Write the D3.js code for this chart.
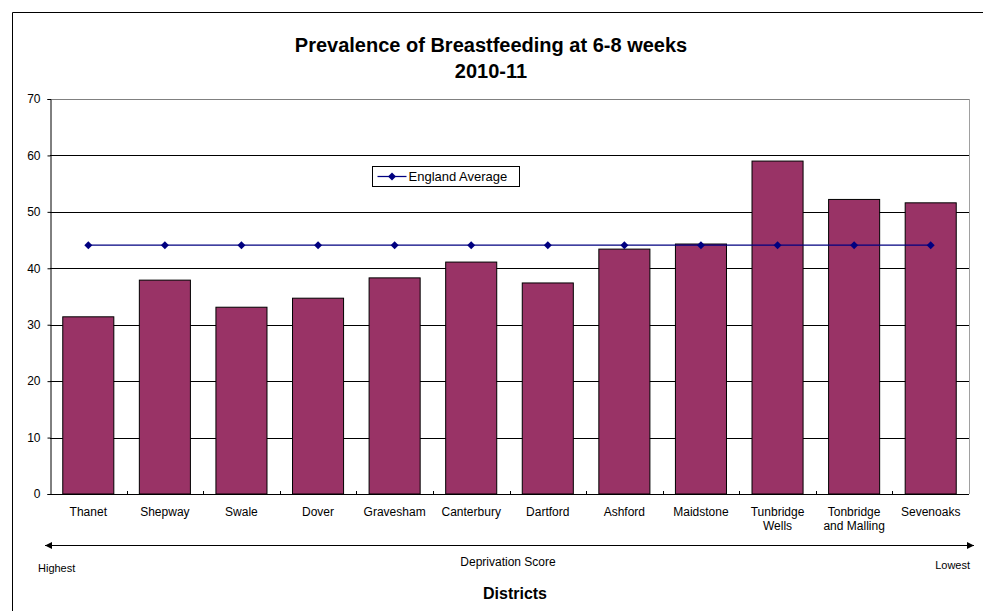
<!DOCTYPE html>
<html>
<head>
<meta charset="utf-8">
<script src="https://cdn.jsdelivr.net/npm/d3@7"></script>
<style>
  body { margin: 0; background: #fff; }
  svg { display: block; font-family: "Liberation Sans", Arial, sans-serif; }
</style>
</head>
<body>
<script>
var districts = ['Thanet', 'Shepway', 'Swale', 'Dover', 'Gravesham', 'Canterbury', 'Dartford',
  'Ashford', 'Maidstone', 'Tunbridge Wells', 'Tonbridge and Malling', 'Sevenoaks'];
var prevalence = [31.4, 37.9, 33.1, 34.7, 38.3, 41.1, 37.4, 43.4, 44.3, 59.0, 52.2, 51.6];
var englandAverage = [44.1, 44.1, 44.1, 44.1, 44.1, 44.1, 44.1, 44.1, 44.1, 44.1, 44.1, 44.1];
var yTicks = [0, 10, 20, 30, 40, 50, 60, 70];
// label lines for the two-line district names
var labelLines = {
  'Tunbridge Wells': ['Tunbridge', 'Wells'],
  'Tonbridge and Malling': ['Tonbridge', 'and Malling']
};

var width = 983;
var height = 611;
// plot area edges
var pLeft = 50, pRight = 969, pTop = 99, pBottom = 494;

var svg = d3.select('body')
  .append('svg')
  .attr('width', width)
  .attr('height', height);

// outer chart border (only left and top visible)
svg.append('path')
  .attr('d', 'M12.5,' + height + 'V12.5H' + width)
  .attr('fill', 'none')
  .attr('stroke', '#000')
  .attr('stroke-width', 1);

var x = d3.scaleBand()
  .domain(districts)
  .range([pLeft, pRight])
  .paddingInner(1 / 3)
  .paddingOuter(1 / 6);

var xEdge = d3.scaleBand()
  .domain(districts)
  .range([pLeft, pRight]);

var y = d3.scaleLinear()
  .domain([0, 70])
  .range([pBottom, pTop]);

// gridlines
svg.append('g')
  .selectAll('line')
  .data(yTicks.slice(1))
  .enter()
  .append('line')
    .attr('x1', pLeft)
    .attr('x2', pRight)
    .attr('y1', function (d) { return Math.round(y(d)) + 0.5; })
    .attr('y2', function (d) { return Math.round(y(d)) + 0.5; })
    .attr('stroke', function (d) { return d === 70 ? '#808080' : '#000'; })
    .attr('stroke-width', 1);

// right plot border
svg.append('line')
  .attr('x1', pRight + 0.5).attr('x2', pRight + 0.5)
  .attr('y1', pTop).attr('y2', pBottom)
  .attr('stroke', '#a0a0a0');

// bars
svg.append('g')
  .selectAll('rect')
  .data(prevalence)
  .enter()
  .append('rect')
    .attr('x', function (d, i) { return x(districts[i]); })
    .attr('y', function (d) { return y(d); })
    .attr('width', x.bandwidth())
    .attr('height', function (d) { return pBottom - y(d); })
    .attr('fill', '#993366')
    .attr('stroke', '#000')
    .attr('stroke-width', 1);

// y axis
var yAxis = d3.axisLeft(y)
  .tickValues(yTicks)
  .tickSize(3)
  .tickPadding(7);
var gy = svg.append('g')
  .attr('transform', 'translate(' + (pLeft + 0.5) + ',0)')
  .call(yAxis);
gy.select('.domain').attr('stroke', '#000');
gy.selectAll('text').attr('font-size', 12).attr('fill', '#000').attr('font-family', '"Liberation Sans", Arial, sans-serif');

// x axis line with inside ticks at category boundaries
svg.append('line')
  .attr('x1', pLeft).attr('x2', pRight)
  .attr('y1', pBottom + 0.5).attr('y2', pBottom + 0.5)
  .attr('stroke', '#000');
svg.append('g')
  .selectAll('line')
  .data(districts.slice(1))
  .enter()
  .append('line')
    .attr('x1', function (d) { return Math.round(xEdge(d)) + 0.5; })
    .attr('x2', function (d) { return Math.round(xEdge(d)) + 0.5; })
    .attr('y1', pBottom)
    .attr('y2', pBottom - 3)
    .attr('stroke', '#000');

// x labels
svg.append('g')
  .selectAll('text')
  .data(districts)
  .enter()
  .append('text')
    .attr('x', function (d) { return x(d) + x.bandwidth() / 2; })
    .attr('y', 516)
    .attr('text-anchor', 'middle')
    .attr('font-size', 12)
    .each(function (d) {
      var lines = labelLines[d] || [d];
      var t = d3.select(this);
      lines.forEach(function (l, k) {
        t.append('tspan')
          .attr('x', x(d) + x.bandwidth() / 2)
          .attr('dy', k === 0 ? 0 : 14)
          .text(l);
      });
    });

// England average line
var line = d3.line()
  .x(function (d, i) { return x(districts[i]) + x.bandwidth() / 2; })
  .y(function (d) { return y(d); });

svg.append('path')
  .datum(englandAverage)
  .attr('d', line)
  .attr('fill', 'none')
  .attr('stroke', '#000080')
  .attr('stroke-width', 1.25);

// square diamond markers like the spreadsheet ones
var diamond = 'M0,-4L4,0L0,4L-4,0Z';
svg.append('g')
  .selectAll('path')
  .data(englandAverage)
  .enter()
  .append('path')
    .attr('d', diamond)
    .attr('transform', function (d, i) {
      return 'translate(' + (x(districts[i]) + x.bandwidth() / 2) + ',' + y(d) + ')';
    })
    .attr('fill', '#000080');

// legend
var legend = svg.append('g').attr('transform', 'translate(372.5,166.5)');
legend.append('rect')
  .attr('width', 147)
  .attr('height', 20)
  .attr('fill', '#fff')
  .attr('stroke', '#000');
legend.append('line')
  .attr('x1', 5).attr('x2', 34)
  .attr('y1', 10).attr('y2', 10)
  .attr('stroke', '#000080')
  .attr('stroke-width', 1.25);
legend.append('path')
  .attr('d', diamond)
  .attr('transform', 'translate(19.5,10)')
  .attr('fill', '#000080');
legend.append('text')
  .attr('x', 36)
  .attr('y', 14.5)
  .attr('font-size', 13)
  .text('England Average');

// title
svg.append('text')
  .attr('x', 491)
  .attr('y', 51.5)
  .attr('text-anchor', 'middle')
  .attr('font-size', 20)
  .attr('font-weight', 'bold')
  .text('Prevalence of Breastfeeding at 6-8 weeks');
svg.append('text')
  .attr('x', 491)
  .attr('y', 78)
  .attr('text-anchor', 'middle')
  .attr('font-size', 20)
  .attr('font-weight', 'bold')
  .text('2010-11');

// deprivation arrow
svg.append('defs').html(
  '<marker id="ah" viewBox="0 0 10 10" refX="10" refY="5" markerWidth="8" markerHeight="7" markerUnits="userSpaceOnUse" orient="auto-start-reverse">' +
  '<path d="M0,0L10,5L0,10z" fill="#000"/></marker>');
svg.append('line')
  .attr('x1', 45).attr('x2', 974)
  .attr('y1', 545.5).attr('y2', 545.5)
  .attr('stroke', '#000')
  .attr('stroke-width', 1.2)
  .attr('marker-start', 'url(#ah)')
  .attr('marker-end', 'url(#ah)');

svg.append('text')
  .attr('x', 38).attr('y', 572)
  .attr('font-size', 11)
  .text('Highest');
svg.append('text')
  .attr('x', 970).attr('y', 569)
  .attr('text-anchor', 'end')
  .attr('font-size', 11)
  .text('Lowest');
svg.append('text')
  .attr('x', 508).attr('y', 566)
  .attr('text-anchor', 'middle')
  .attr('font-size', 12)
  .text('Deprivation Score');
svg.append('text')
  .attr('x', 515).attr('y', 599)
  .attr('text-anchor', 'middle')
  .attr('font-size', 16)
  .attr('font-weight', 'bold')
  .text('Districts');
</script>
</body>
</html>
